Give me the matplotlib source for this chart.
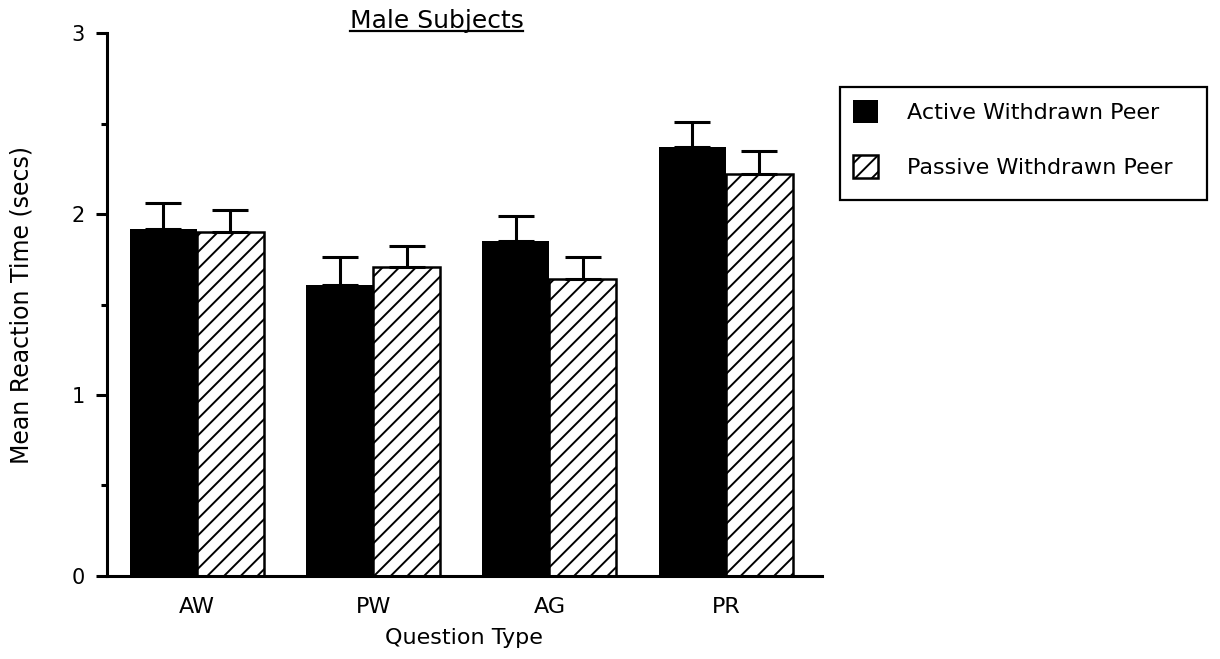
import matplotlib
matplotlib.use("Agg")
import matplotlib.pyplot as plt
import numpy as np
from matplotlib.lines import Line2D
from matplotlib.patches import Rectangle

# ---- data ----
categories = ["AW", "PW", "AG", "PR"]
active_means = [1.92, 1.61, 1.85, 2.37]
active_err = [0.14, 0.15, 0.14, 0.14]
passive_means = [1.90, 1.71, 1.64, 2.22]
passive_err = [0.125, 0.115, 0.12, 0.13]
series_labels = ["Active Withdrawn Peer", "Passive Withdrawn Peer"]
y_ticks = [0, 1, 2, 3]
y_minor = [0.5, 1.5, 2.5]

plt.rcParams['font.family'] = ['DejaVu Sans']
plt.rcParams['hatch.linewidth'] = 1.4

W, H = 1220, 659
fig = plt.figure(figsize=(W / 100, H / 100), dpi=100)
ax_l, ax_r, ax_t, ax_b = 106.7, 822, 33.3, 575.7
ax = fig.add_axes([ax_l / W, 1 - ax_b / H, (ax_r - ax_l) / W, (ax_b - ax_t) / H])

x = np.arange(len(categories))
w = 0.38
lw = 2.2
b1 = ax.bar(x - w / 2, active_means, w, color="black", edgecolor="black",
            linewidth=0, label=series_labels[0], zorder=2)
b2 = ax.bar(x + w / 2, passive_means, w, facecolor="white", edgecolor="black",
            hatch="//", linewidth=1.8, label=series_labels[1], zorder=2)
ax.errorbar(x - w / 2, active_means, yerr=[np.zeros(len(x)), active_err],
            fmt="none", ecolor="black", elinewidth=lw, capsize=13.3, capthick=lw, zorder=3)
ax.errorbar(x + w / 2, passive_means, yerr=[np.zeros(len(x)), passive_err],
            fmt="none", ecolor="black", elinewidth=lw, capsize=13.3, capthick=lw, zorder=3)

ax.set_xlim(-0.51, 3.545)
ax.set_ylim(0, 3)
ax.set_xticks(x)
ax.set_xticklabels(categories, fontsize=16)
ax.set_yticks(y_ticks)
ax.set_yticklabels([str(t) for t in y_ticks], fontsize=15)
ax.set_yticks(y_minor, minor=True)
ax.tick_params(axis="y", which="major", direction="out", length=8, width=lw, pad=8)
ax.tick_params(axis="y", which="minor", direction="out", length=4.5, width=lw)
ax.tick_params(axis="x", which="both", length=0, pad=15)

for s in ["top", "right"]:
    ax.spines[s].set_visible(False)
for s in ["left", "bottom"]:
    ax.spines[s].set_linewidth(lw)

ax.set_xlabel("Question Type", fontsize=16)
ax.xaxis.set_label_coords(0.5, -0.0964)
ax.set_ylabel("Mean Reaction Time (secs)", fontsize=17)
ax.yaxis.set_label_coords(-0.103, 0.5)

leg_l, leg_r, leg_t, leg_b = 840, 1207, 86.7, 200
leg = fig.legend(handles=[b1, b2], labels=series_labels, loc="upper left",
                 bbox_to_anchor=(leg_l / W, 1 - leg_b / H, (leg_r - leg_l) / W, (leg_b - leg_t) / H),
                 mode="expand", fontsize=16, frameon=False,
                 handlelength=1.1, handleheight=1.2,
                 handletextpad=1.3, labelspacing=1.45, borderpad=0.6, borderaxespad=0)
fig.add_artist(Rectangle((leg_l / W, 1 - leg_b / H), (leg_r - leg_l) / W, (leg_b - leg_t) / H,
                         transform=fig.transFigure, fill=False, edgecolor="black", lw=1.6))

title = fig.text(436.5 / W, 1 - 28 / H, "Male Subjects", fontsize=18,
                 ha="center", va="baseline")
fig.canvas.draw()
bb = title.get_window_extent()
uy = (1 - 31 / H)
fig.add_artist(Line2D([bb.x0 / W, bb.x1 / W], [uy, uy], color="black", lw=1.6,
                      transform=fig.transFigure))

fig.savefig("out.png", dpi=100)
